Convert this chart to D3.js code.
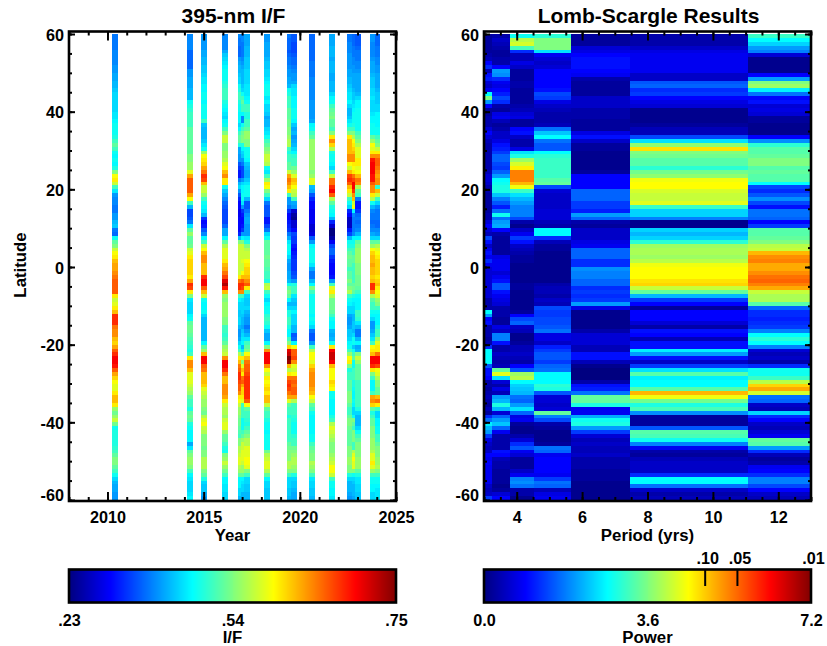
<!DOCTYPE html>
<html>
<head>
<meta charset="utf-8">
<script src="https://cdn.jsdelivr.net/npm/d3@7"></script>
<style>
  body { margin: 0; background: #fff; }
  text { font-family: "Liberation Sans", Arial, sans-serif; font-weight: bold; fill: #000; }
</style>
</head>
<body>
<div id="chart"></div>
<script>
// I/F x100, one value per degree from 60 down to -60
const iof2010 = [38,38,38,38,39,39,39,39,40,40,41,41,42,42,43,44,44,44,44,44,45,45,46,47,47,47,48,50,52,50,47,46,47,46,48,54,59,60,57,50,
  45,40,39,39,38,38,40,40,42,43,38,37,47,52,54,57,59,60,62,63,63,64,65,66,66,66,66,60,57,58,60,62,68,68,68,65,64,64,62,61,
  63,66,68,70,70,69,66,63,61,59,58,58,60,62,62,60,55,53,55,57,53,47,48,48,48,48,49,50,52,54,54,52,50,47,44,42,41,41,40,40];
const iof2014 = [39,39,39,39,37,37,37,37,37,40,40,41,41,41,42,42,42,47,48,49,50,50,50,50,52,52,52,52,52,52,52,54,54,55,55,58,63,66,66,66,
  66,63,59,50,42,35,35,36,38,45,52,55,52,52,53,57,58,60,61,61,61,61,60,63,68,67,60,54,45,44,44,44,46,47,52,53,53,52,51,50,
  49,48,50,60,64,64,62,58,58,58,57,56,55,52,50,50,48,52,53,52,48,47,46,46,46,41,45,52,54,55,55,54,50,46,45,44,44,44,45,46];
const iof2015 = [40,40,40,40,41,41,42,42,43,43,44,45,45,46,46,47,47,46,47,47,47,47,50,43,42,42,42,43,45,47,55,59,60,61,63,65,68,67,62,57,
  57,55,50,47,46,45,42,34,31,32,36,39,46,50,57,59,62,64,64,62,62,62,68,70,70,66,62,57,47,46,46,47,44,42,42,42,42,42,42,46,
  52,55,62,70,70,66,65,62,62,62,61,58,57,56,55,55,54,53,56,58,59,57,56,54,54,54,53,54,54,56,56,56,54,52,48,44,43,43,41,40];
const iof2016 = [39,39,39,39,41,43,44,45,46,47,47,47,48,49,50,50,50,48,47,46,45,44,46,47,50,54,57,57,54,54,55,55,56,58,59,62,64,60,60,47,
  43,41,39,37,36,35,35,35,35,37,41,41,46,52,56,58,58,58,60,62,63,65,67,71,73,69,62,55,54,55,55,55,55,54,54,50,50,49,50,52,
  55,56,57,64,70,70,68,65,62,62,64,64,64,63,60,57,56,56,55,57,58,58,55,52,52,50,48,47,54,55,57,55,53,50,46,46,45,45,44,44];
const iof2017a = [39,38,38,37,37,37,40,41,42,42,43,44,44,47,48,50,50,48,47,47,46,46,46,44,46,50,52,52,48,41,41,40,40,36,34,32,32,38,42,44,
  40,36,33,31,31,30,30,31,31,31,31,33,42,54,57,57,57,57,57,57,57,57,60,65,68,68,64,50,46,44,44,43,43,44,44,42,40,40,41,44,
  47,50,56,60,62,65,66,68,68,67,66,66,64,60,59,57,55,55,54,53,53,52,51,50,54,54,56,56,57,58,58,56,55,52,46,46,46,44,44,42];
const iof2017b = [39,39,38,38,38,38,39,40,41,42,42,42,42,43,44,47,50,52,50,50,46,39,39,47,50,53,54,54,48,46,44,43,40,38,35,35,35,40,44,46,
  46,47,47,45,40,34,32,31,31,32,34,40,46,54,57,57,57,57,58,57,57,59,62,66,68,67,64,50,45,44,44,44,43,42,42,41,43,44,45,46,
  42,45,52,60,54,58,62,60,65,66,63,61,61,60,58,50,50,50,50,47,47,47,50,52,55,57,57,58,58,58,57,55,55,52,46,45,44,44,42,42];
const iof2017c = [41,41,41,42,42,42,43,43,43,44,44,44,44,45,45,45,46,47,50,50,48,48,50,50,52,55,55,54,54,47,47,47,46,43,42,41,41,43,45,47,
  47,47,42,36,36,38,40,41,41,40,40,40,45,48,54,56,57,57,59,60,61,61,62,64,66,60,50,44,43,43,44,42,41,40,40,38,40,42,45,50,
  52,54,59,62,65,66,66,67,68,68,68,68,68,68,66,59,52,50,50,49,48,50,52,54,56,56,58,58,58,59,59,58,54,50,44,44,43,43,42,42];
const iof2018 = [40,40,41,41,41,41,42,43,43,44,44,45,46,47,47,47,45,46,44,44,43,41,42,42,44,45,47,50,52,54,55,57,57,56,47,45,50,55,60,59,
  54,50,44,38,36,36,36,32,32,35,38,44,47,52,52,52,52,53,52,52,51,50,50,48,56,57,50,47,44,46,47,47,49,50,49,47,43,41,41,46,
  54,64,70,70,70,64,59,57,60,59,60,61,60,62,62,57,52,50,50,48,47,47,46,47,47,47,47,53,56,57,58,58,56,52,46,44,44,43,43,43];
const iof2019a = [38,37,37,37,36,37,38,38,39,40,40,41,41,42,47,48,50,50,50,52,52,52,53,53,54,54,55,56,56,50,48,50,50,52,52,57,63,65,64,62,
  60,50,40,40,38,34,31,31,32,33,34,38,41,45,47,47,46,44,41,40,40,41,41,42,47,52,54,52,46,42,44,48,48,50,50,48,46,46,50,54,
  61,71,72,75,74,62,56,60,65,67,68,67,65,63,58,52,50,50,48,50,50,50,50,50,50,52,53,54,54,54,56,56,54,50,44,44,44,43,43,42];
const iof2019b = [36,36,35,35,35,36,37,37,38,39,40,40,41,44,45,45,46,46,46,47,47,47,46,43,41,42,40,41,42,44,46,49,50,50,53,55,58,62,61,59,
  57,56,50,41,40,28,25,24,28,28,31,35,34,34,32,31,32,33,34,34,34,35,36,40,48,50,50,45,43,42,44,46,44,44,44,42,42,36,37,46,
  59,66,66,67,64,58,57,59,65,66,65,66,66,63,56,50,50,50,49,48,47,47,47,49,50,50,53,54,55,56,56,55,54,48,44,43,43,42,41,41];
const iof2020 = [37,37,37,37,37,37,37,38,38,38,38,39,39,39,39,39,39,40,40,40,40,40,41,46,47,50,52,55,55,55,55,55,55,55,55,54,55,58,58,42,
  41,36,33,31,31,30,30,30,30,28,28,29,36,40,46,47,47,47,47,45,41,38,38,42,46,54,50,47,47,47,47,47,46,47,46,44,38,36,36,40,
  50,56,59,59,58,61,63,64,64,64,64,63,62,59,57,52,50,47,46,46,46,46,46,47,47,50,52,53,54,54,56,55,54,50,45,44,44,43,43,42];
const iof2021 = [41,41,41,42,42,42,41,42,42,42,41,41,42,42,42,44,46,47,50,52,53,54,52,52,50,54,60,64,61,56,48,47,47,46,44,50,57,65,65,68,
  70,66,56,52,48,47,46,42,33,28,23,23,25,30,35,37,37,34,32,31,31,31,32,40,50,58,60,56,53,53,53,52,50,47,46,46,42,41,42,47,
  60,70,72,72,70,62,59,59,59,61,60,59,47,47,46,46,46,46,48,50,56,58,57,56,55,54,54,54,55,56,57,59,59,57,50,47,47,46,46,45];
const iof2022a = [38,38,39,39,39,40,40,40,40,41,41,42,42,43,44,45,45,46,44,42,42,43,45,47,50,54,60,62,62,62,62,64,64,59,57,62,67,68,66,62,
  60,57,50,47,44,33,31,27,27,27,32,35,42,47,48,50,52,53,52,52,50,52,52,54,52,54,56,50,47,46,44,44,41,40,40,41,43,43,44,46,
  47,50,55,59,60,54,48,50,50,52,52,52,54,54,54,52,50,50,52,54,54,53,52,52,52,52,54,54,54,55,55,54,54,48,44,42,42,42,41,40];
const iof2022b = [37,37,37,38,38,38,39,39,40,40,41,41,41,41,42,43,43,44,45,46,47,47,47,48,50,54,56,59,60,61,62,64,64,60,59,60,65,67,70,70,
  68,64,62,57,59,46,39,38,38,38,38,39,46,47,48,50,50,52,52,50,50,50,50,50,52,53,52,48,46,45,44,44,42,42,43,43,42,44,47,47,
  43,47,50,52,47,47,50,50,50,48,48,47,46,46,47,46,44,44,47,54,52,50,54,54,54,50,50,56,58,59,58,58,54,47,44,43,42,42,42,41];
const iof2023 = [36,36,36,37,38,38,38,39,39,40,41,41,41,41,41,42,44,46,46,47,47,47,47,47,47,50,52,54,56,58,58,58,60,60,58,59,62,65,64,56,
  52,50,38,32,32,34,37,38,37,38,39,42,46,52,54,55,55,55,55,54,54,54,53,53,53,52,50,47,46,46,46,50,50,49,45,42,38,38,42,46,
  41,42,54,57,55,52,52,52,52,50,50,50,50,50,50,50,48,44,42,42,42,44,47,50,52,54,54,54,54,55,55,55,52,48,45,45,44,44,43,43];
const iof2024a = [40,40,39,39,39,39,40,41,41,41,42,43,43,43,44,44,45,44,44,44,45,46,46,47,47,47,52,55,59,58,60,64,69,70,70,70,69,69,66,64,
  64,60,56,47,42,39,38,38,37,38,39,41,44,52,55,59,61,62,62,63,62,62,61,62,68,68,64,56,52,50,50,47,46,44,40,40,41,43,45,50,
  59,60,62,70,70,68,60,54,50,46,46,46,50,63,64,61,52,48,50,52,52,54,54,54,55,55,55,56,58,58,60,58,55,50,47,47,46,46,44,44];
const iof2024b = [37,37,37,38,38,38,39,39,40,40,41,41,41,41,42,43,43,43,44,44,46,46,46,46,47,47,50,52,54,57,60,64,66,66,65,64,63,64,64,49,
  62,57,50,44,40,38,38,38,37,37,39,40,44,52,56,58,59,60,61,61,61,61,60,61,62,60,59,58,55,54,50,47,46,46,46,48,50,50,55,58,
  60,60,65,70,70,67,59,58,56,54,54,52,52,62,65,60,50,44,44,46,46,47,47,50,50,52,54,54,54,55,55,56,54,50,47,47,46,45,45,45];

const iofColumns = [iof2010, iof2014, iof2015, iof2016, iof2017a, iof2017b, iof2017c, iof2018, iof2019a, iof2019b,
  iof2020, iof2021, iof2022a, iof2022b, iof2023, iof2024a, iof2024b];
// time span of each stripe, years
const iofSpans = [[2010.24,2010.55],[2014.13,2014.45],[2014.86,2015.17],[2015.95,2016.27],[2016.79,2016.94],[2016.94,2017.10],[2017.10,2017.41],
  [2018.14,2018.45],[2019.33,2019.54],[2019.54,2019.85],[2020.48,2020.79],[2021.52,2021.83],[2022.45,2022.71],[2022.71,2022.87],[2022.87,2023.18],
  [2023.65,2023.91],[2023.91,2024.17]];

// Lomb-Scargle power x10, same rows
const power1 = [2,2,2,2,2,3,4,9,12,4,10,11,6,5,8,27,36,20,9,2,2,3,3,3,6,9,6,4,3,3,3,3,3,3,3,4,6,6,5,3,
  3,2,2,2,2,2,3,3,6,9,6,4,14,10,5,8,10,8,12,8,6,6,6,6,6,6,6,6,3,3,3,27,20,9,10,3,3,3,2,3,
  12,27,27,27,27,15,10,10,9,3,3,2,3,4,3,2,4,2,12,17,26,22,20,13,7,5,4,5,9,8,9,8,8,8,8,8,5,4,5,13];
const power2 = [3,5,4,3,2,2,3,3,9,20,19,12,8,7,9,11,14,12,3,2,7,8,4,2,3,5,5,7,10,11,13,16,16,14,13,16,20,27,28,29,
  29,23,18,15,11,17,28,17,20,21,9,3,2,2,2,2,2,7,8,8,8,6,8,10,15,15,10,8,7,6,3,3,3,2,2,7,5,18,18,10,
  3,3,5,4,3,4,34,43,25,6,3,7,4,20,22,29,22,6,16,20,23,16,8,3,3,3,3,10,9,4,3,3,2,2,2,2,1,2,6,9];
const power3 = [28,40,42,32,12,4,4,7,5,2,2,2,3,3,2,2,2,2,3,4,6,7,2,2,9,10,5,3,3,7,25,29,38,42,46,54,54,54,50,44,
  31,25,22,20,18,18,18,14,3,1,5,8,13,10,5,4,3,2,2,1,1,1,1,1,2,2,1,1,1,1,1,2,9,14,16,5,4,1,1,2,
  4,4,5,4,3,9,15,38,40,27,24,23,22,17,16,20,25,16,7,8,2,1,1,3,6,12,15,8,6,2,2,2,5,8,18,19,17,3,3,1];
const power4 = [30,36,36,36,25,8,6,5,6,9,9,9,9,9,10,14,13,7,5,4,3,3,3,4,17,23,27,17,15,15,27,30,31,31,31,31,31,33,34,14,
  6,5,5,5,5,6,6,6,4,3,27,27,12,4,2,2,1,1,1,1,1,1,1,1,3,4,4,3,5,4,14,13,13,14,14,15,17,7,7,5,
  11,13,15,15,13,16,17,27,27,27,30,29,15,6,6,5,6,34,18,14,3,2,1,1,1,2,17,16,8,9,9,9,9,8,13,17,16,4,7,8];
const power5 = [2,2,2,6,7,9,10,10,10,9,8,3,2,2,2,2,5,5,5,3,3,3,2,2,2,7,10,5,2,2,1,1,1,1,1,2,9,9,9,9,
  16,16,16,13,13,11,20,16,3,2,5,5,5,7,8,16,16,16,12,12,19,18,18,16,16,12,13,12,13,20,7,1,1,1,1,1,3,6,6,6,
  4,4,10,10,4,1,0,0,0,3,10,11,17,34,34,29,8,8,21,28,29,20,13,6,4,5,4,4,5,3,3,3,2,2,2,1,1,1,1,1];
const power6 = [3,3,3,5,7,8,8,8,8,8,5,5,15,16,12,13,9,7,6,1,1,1,1,2,4,4,14,25,37,47,36,35,33,33,30,35,37,44,45,45,
  42,41,41,43,31,24,24,18,1,1,24,22,24,30,38,39,39,38,40,44,45,45,45,47,48,41,34,22,13,9,2,9,9,9,6,3,10,9,4,10,
  10,26,20,10,5,13,25,33,26,27,27,33,50,44,35,29,32,19,2,2,2,15,33,32,28,18,8,3,2,4,5,5,5,12,27,27,17,5,3,4];
const power7 = [31,27,24,20,18,6,1,1,1,1,9,20,36,38,26,17,9,10,6,7,6,2,2,1,1,1,9,19,30,33,33,34,36,36,33,34,33,33,27,14,
  12,15,19,14,10,17,17,16,9,13,33,33,34,36,40,41,50,53,54,51,51,53,55,56,54,51,41,39,39,33,16,12,12,11,12,13,18,27,30,27,
  18,6,4,5,3,12,28,28,31,40,48,51,42,17,16,5,4,24,12,9,5,4,6,8,34,33,20,12,4,2,3,8,9,12,18,18,14,9,5,4];

const powerColumns = [power1, power2, power3, power4, power5, power6, power7];
const periodEdges = [3, 3.25, 3.8, 4.53, 5.66, 7.46, 11.07, 13];

const latTicks = [-60, -40, -20, 0, 20, 40, 60];
const latMinor = d3.range(-60, 61, 5);
const yearTicks = [2010, 2015, 2020, 2025];
const yearMinor = d3.range(2008, 2026, 1);
const periodTicks = [4, 6, 8, 10, 12];
const periodMinor = d3.range(3, 13.01, 0.5);
const iofBarTicks = [0.23, 0.54, 0.75];
const powerBarTicks = [0, 3.6, 7.2];
const sigLevels = [4.87, 5.58, 7.2];
const sigLabels = [".10", ".05", ".01"];

const width = 827, height = 646;
const left = { x0: 69, x1: 396 }, right = { x0: 484, x1: 811 };
const plotTop = 31.5, plotBottom = 501;

const svg = d3.select("#chart").append("svg").attr("width", width).attr("height", height);

const jet = d3.scaleLinear()
  .domain([0, 0.125, 0.375, 0.625, 0.875, 1])
  .range(["#000080", "#0000ff", "#00ffff", "#ffff00", "#ff0000", "#800000"])
  .clamp(true);
const iofNorm = d3.scaleLinear().domain(iofBarTicks).range([0, 0.5, 1]);
const powerNorm = d3.scaleLinear().domain([0, 7.2]).range([0, 1]);

const y = d3.scaleLinear().domain([-60, 60]).range([500, 34]);
const xYear = d3.scaleLinear().domain([2008, 2025]).range([left.x0, left.x1]);
const xPeriod = d3.scaleLinear().domain([3, 13]).range([right.x0, right.x1]);

// one <g> of cells per column
function drawColumns(columns, spans, x, color) {
  const g = svg.append("g").attr("shape-rendering", "crispEdges");
  columns.forEach((vals, c) => {
    g.append("g").selectAll("rect").data(vals).enter().append("rect")
      .attr("x", x(spans[c][0]))
      .attr("width", x(spans[c][1]) - x(spans[c][0]))
      .attr("y", (d, i) => y(60 - i))
      .attr("height", (d, i) => y(59 - i) - y(60 - i))
      .attr("fill", d => color(d));
  });
}

function styleTicks(g) {
  g.select(".domain").remove();
  g.selectAll(".tick line").attr("stroke", "#000").attr("stroke-width", 2);
}

function tickSet(axisFn, scale, at, values, size) {
  svg.append("g").attr("transform", at)
    .call(axisFn(scale).tickValues(values).tickSize(size).tickFormat(""))
    .call(styleTicks)
}

function drawPanel(p, x, xTicks, xMinor, title, xLabel, labelX) {
  const mid = (p.x0 + p.x1) / 2;
  // inward ticks on all four sides
  tickSet(d3.axisRight, y, `translate(${p.x0},0)`, latMinor, 3);
  tickSet(d3.axisRight, y, `translate(${p.x0},0)`, latTicks, 6);
  tickSet(d3.axisLeft, y, `translate(${p.x1},0)`, latMinor, 3);
  tickSet(d3.axisLeft, y, `translate(${p.x1},0)`, latTicks, 6);
  tickSet(d3.axisBottom, x, `translate(0,${plotTop})`, xMinor, 4);
  tickSet(d3.axisBottom, x, `translate(0,${plotTop})`, xTicks, 9);
  tickSet(d3.axisTop, x, `translate(0,${plotBottom})`, xMinor, 4);
  tickSet(d3.axisTop, x, `translate(0,${plotBottom})`, xTicks, 9);

  svg.append("rect")
    .attr("x", p.x0).attr("y", plotTop)
    .attr("width", p.x1 - p.x0).attr("height", plotBottom - plotTop)
    .attr("fill", "none").attr("stroke", "#000").attr("stroke-width", 2.6);

  const yAxis = svg.append("g").attr("transform", `translate(${p.x0},0)`)
    .call(d3.axisLeft(y).tickValues(latTicks).tickSize(0).tickPadding(5).tickFormat(d => String(d)));
  yAxis.select(".domain").remove();
  yAxis.selectAll("text").attr("font-size", 16.2).attr("font-family", null)
    .attr("dy", d => d === -60 ? "0.05em" : "0.38em");

  const xAxis = svg.append("g").attr("transform", "translate(0,511)")
    .call(d3.axisBottom(x).tickValues(xTicks).tickSize(0).tickPadding(0).tickFormat(d => String(d)));
  xAxis.select(".domain").remove();
  xAxis.selectAll("text").attr("font-size", 16.2).attr("font-family", null);

  svg.append("text").attr("x", mid + 1).attr("y", 23).attr("text-anchor", "middle")
    .attr("font-size", 21).text(title);
  svg.append("text").attr("x", mid).attr("y", 541).attr("text-anchor", "middle")
    .attr("font-size", 16.8).text(xLabel);
  svg.append("text").attr("transform", `translate(${labelX},265) rotate(-90)`)
    .attr("text-anchor", "middle").attr("font-size", 16.8).text("Latitude");
}

function drawBar(p, barScale, ticks, fmt, label) {
  const barTop = 569.5, barBottom = 602.5;
  const t = d3.scaleLinear().domain([0, 1]).range([p.x0, p.x1]);
  svg.append("g").attr("shape-rendering", "crispEdges")
    .selectAll("rect").data(d3.range(0, 1, 1 / 328)).enter().append("rect")
    .attr("x", d => t(d)).attr("y", barTop)
    .attr("width", 1.5).attr("height", barBottom - barTop)
    .attr("fill", d => jet(d));
  svg.append("rect").attr("x", p.x0).attr("y", barTop)
    .attr("width", p.x1 - p.x0).attr("height", barBottom - barTop)
    .attr("fill", "none").attr("stroke", "#000").attr("stroke-width", 2.6);
  const axis = svg.append("g").attr("transform", "translate(0,614)")
    .call(d3.axisBottom(barScale).tickValues(ticks).tickSize(0).tickPadding(0).tickFormat(fmt));
  axis.select(".domain").remove();
  axis.selectAll("text").attr("font-size", 16.2).attr("font-family", null);
  svg.append("text").attr("x", (p.x0 + p.x1) / 2).attr("y", 643)
    .attr("text-anchor", "middle").attr("font-size", 16.8).text(label);
}

drawColumns(iofColumns, iofSpans, xYear, d => jet(iofNorm(d / 100)));
drawColumns(powerColumns, periodEdges.slice(0, -1).map((e, i) => [e, periodEdges[i + 1]]), xPeriod, d => jet(powerNorm(d / 10)));

drawPanel(left, xYear, yearTicks, yearMinor, "395-nm I/F", "Year", 26);
drawPanel(right, xPeriod, periodTicks, periodMinor, "Lomb-Scargle Results", "Period (yrs)", 441);

const iofBar = d3.scaleLinear().domain(iofBarTicks).range([left.x0, (left.x0 + left.x1) / 2, left.x1]);
const powerBar = d3.scaleLinear().domain([0, 7.2]).range([right.x0, right.x1]);
drawBar(left, iofBar, iofBarTicks, d => String(d).replace(/^0/, ""), "I/F");
drawBar(right, powerBar, powerBarTicks, d => d.toFixed(1), "Power");

// significance levels on the power bar
const sig = svg.append("g").attr("transform", "translate(0,569)")
  .call(d3.axisTop(powerBar).tickValues(sigLevels).tickSize(0).tickPadding(5).tickFormat((d, i) => sigLabels[i]));
sig.select(".domain").remove();
sig.selectAll("text").attr("font-size", 16.2).attr("font-family", null).attr("dx", 2);
svg.selectAll(".sigTick").data(sigLevels.slice(0, 2)).enter().append("line")
  .attr("x1", d => powerBar(d)).attr("x2", d => powerBar(d))
  .attr("y1", 569).attr("y2", 586)
  .attr("stroke", "#000").attr("stroke-width", 2);
</script>
</body>
</html>
